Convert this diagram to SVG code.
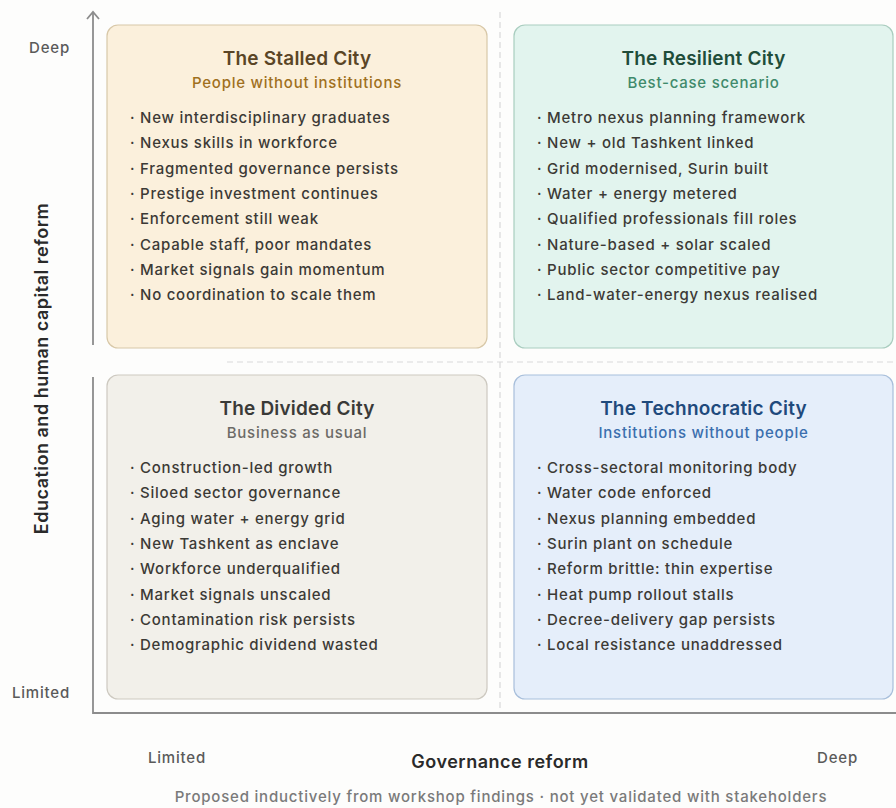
<svg xmlns="http://www.w3.org/2000/svg" width="896" height="808" viewBox="0 0 896 808">
  <style>
    text { font-family: Inter, "Noto Sans", "Liberation Sans", sans-serif; }
    .box { stroke-width: 1.2; }
    .title { font-size: 19px; font-weight: 600; letter-spacing: 0.2px; text-anchor: middle; }
    .sub { font-size: 15px; font-weight: 500; letter-spacing: 0.75px; text-anchor: middle; }
    .item { font-size: 15px; font-weight: 500; letter-spacing: 0.75px; fill: #3c3a36; }
    .tick { font-size: 15px; font-weight: 500; letter-spacing: 0.8px; fill: #5a5a5a; }
    .axis-title { font-size: 18px; font-weight: 600; letter-spacing: 0.5px; fill: #2a2a2a; text-anchor: middle; }
    .note { font-size: 15px; font-weight: 500; letter-spacing: 0.8px; fill: #7a7a7a; text-anchor: middle; }
    .axis { stroke: #8c8c8c; stroke-width: 1.8; fill: none; }
    .guide { stroke: #d9d9d9; stroke-width: 1.2; stroke-dasharray: 6 4; fill: none; }
  </style>

  <rect width="896" height="808" fill="#fdfdfc"/>

  <!-- quadrant guides and axes -->
  <g id="connectors">
    <line class="guide" x1="500" y1="12" x2="500" y2="712"/>
    <line class="guide" x1="227" y1="362" x2="896" y2="362"/>
    <path class="axis" d="M93,345 L93,12"/>
    <path class="axis" d="M87,19 L93,12 L99,19"/>
    <path class="axis" d="M93,377 L93,713 L896,713"/>
  </g>

  <!-- top-left quadrant -->
  <g id="stalled-city">
    <rect class="box" x="107" y="25" width="380" height="323" rx="11" fill="#fbf0dc" stroke="#d8c8a8"/>
    <text class="title" x="297" y="65" fill="#5a4526">The Stalled City</text>
    <text class="sub" x="297" y="88" fill="#a0701e">People without institutions</text>
    <text class="item" x="130" y="123">· New interdisciplinary graduates</text>
    <text class="item" x="130" y="148.3">· Nexus skills in workforce</text>
    <text class="item" x="130" y="173.6">· Fragmented governance persists</text>
    <text class="item" x="130" y="198.9">· Prestige investment continues</text>
    <text class="item" x="130" y="224.2">· Enforcement still weak</text>
    <text class="item" x="130" y="249.5">· Capable staff, poor mandates</text>
    <text class="item" x="130" y="274.8">· Market signals gain momentum</text>
    <text class="item" x="130" y="300.1">· No coordination to scale them</text>
  </g>

  <!-- top-right quadrant -->
  <g id="resilient-city">
    <rect class="box" x="514" y="25" width="379" height="323" rx="11" fill="#e2f4ee" stroke="#a9cdbf"/>
    <text class="title" x="703.5" y="65" fill="#1f4d3a">The Resilient City</text>
    <text class="sub" x="703.5" y="88" fill="#3f8a6b">Best-case scenario</text>
    <text class="item" x="537" y="123">· Metro nexus planning framework</text>
    <text class="item" x="537" y="148.3">· New + old Tashkent linked</text>
    <text class="item" x="537" y="173.6">· Grid modernised, Surin built</text>
    <text class="item" x="537" y="198.9">· Water + energy metered</text>
    <text class="item" x="537" y="224.2">· Qualified professionals fill roles</text>
    <text class="item" x="537" y="249.5">· Nature-based + solar scaled</text>
    <text class="item" x="537" y="274.8">· Public sector competitive pay</text>
    <text class="item" x="537" y="300.1">· Land-water-energy nexus realised</text>
  </g>

  <!-- bottom-left quadrant -->
  <g id="divided-city">
    <rect class="box" x="107" y="375" width="380" height="324" rx="11" fill="#f2f0ea" stroke="#cdc9c0"/>
    <text class="title" x="297" y="415" fill="#3a3a38">The Divided City</text>
    <text class="sub" x="297" y="438" fill="#6c6a66">Business as usual</text>
    <text class="item" x="130" y="473">· Construction-led growth</text>
    <text class="item" x="130" y="498.3">· Siloed sector governance</text>
    <text class="item" x="130" y="523.6">· Aging water + energy grid</text>
    <text class="item" x="130" y="548.9">· New Tashkent as enclave</text>
    <text class="item" x="130" y="574.2">· Workforce underqualified</text>
    <text class="item" x="130" y="599.5">· Market signals unscaled</text>
    <text class="item" x="130" y="624.8">· Contamination risk persists</text>
    <text class="item" x="130" y="650.1">· Demographic dividend wasted</text>
  </g>

  <!-- bottom-right quadrant -->
  <g id="technocratic-city">
    <rect class="box" x="514" y="375" width="379" height="324" rx="11" fill="#e5eefa" stroke="#a8bfdb"/>
    <text class="title" x="703.5" y="415" fill="#1f4a7c">The Technocratic City</text>
    <text class="sub" x="703.5" y="438" fill="#3b6fae">Institutions without people</text>
    <text class="item" x="537" y="473">· Cross-sectoral monitoring body</text>
    <text class="item" x="537" y="498.3">· Water code enforced</text>
    <text class="item" x="537" y="523.6">· Nexus planning embedded</text>
    <text class="item" x="537" y="548.9">· Surin plant on schedule</text>
    <text class="item" x="537" y="574.2">· Reform brittle: thin expertise</text>
    <text class="item" x="537" y="599.5">· Heat pump rollout stalls</text>
    <text class="item" x="537" y="624.8">· Decree-delivery gap persists</text>
    <text class="item" x="537" y="650.1">· Local resistance unaddressed</text>
  </g>

  <!-- axis labels -->
  <g id="axis-labels">
    <text class="tick" x="70" y="53" text-anchor="end">Deep</text>
    <text class="tick" x="70" y="698" text-anchor="end">Limited</text>
    <text class="axis-title" transform="translate(48,368.5) rotate(-90)">Education and human capital reform</text>
    <text class="tick" x="148" y="763">Limited</text>
    <text class="tick" x="858" y="763" text-anchor="end">Deep</text>
    <text class="axis-title" x="500" y="768">Governance reform</text>
    <text class="note" x="501" y="802">Proposed inductively from workshop findings · not yet validated with stakeholders</text>
  </g>
</svg>
